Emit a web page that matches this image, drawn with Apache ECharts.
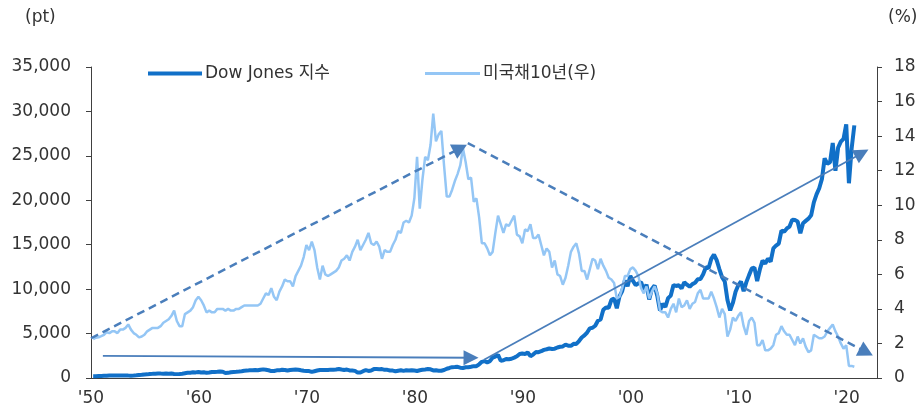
<!DOCTYPE html>
<html>
<head>
<meta charset="utf-8">
<script src="https://cdn.jsdelivr.net/npm/echarts@6/dist/echarts.min.js"></script>
<style>
  html, body { margin: 0; padding: 0; background: #fff; }
  #chart { width: 924px; height: 407px; }
</style>
</head>
<body>
<div id="chart"></div>
<script>
// 다우지수 vs 미국채 10년 금리 (분기 말 기준), 1950 ~ 2020.3Q
var FONT = '"DejaVu Sans", "Noto Sans CJK KR", sans-serif';
var START = 1950.2, STEP = 0.25;   // 첫 분기 위치, 분기 간격(년)

var dowQ = [
  206, 209, 226, 235,   248, 243, 271, 269,   270, 275, 271, 291,   280, 268, 264, 281,
  303, 334, 361, 404,   409, 451, 466, 488,   512, 493, 468, 500,   475, 503, 456, 436,
  446, 478, 532, 584,   602, 644, 632, 679,   616, 641, 580, 616,   676, 684, 701, 731,
  707, 561, 579, 652,   683, 707, 733, 763,   813, 832, 875, 874,   889, 868, 931, 969,
  924, 870, 774, 786,   865, 860, 927, 905,   840, 898, 935, 944,   935, 873, 813, 800,
  785, 683, 761, 839,   904, 891, 887, 890,   940, 929, 953, 1020,  951, 891, 947, 851,
  847, 802, 608, 616,   768, 879, 794, 852,   999, 1003, 990, 1005, 919, 916, 847, 831,
  757, 819, 866, 805,   862, 842, 878, 839,   786, 868, 932, 964,   1004, 977, 850, 875,
  823, 812, 896, 1047,  1130, 1222, 1233, 1259, 1165, 1133, 1207, 1212, 1267, 1336, 1329, 1547,
  1819, 1893, 1768, 1896, 2305, 2419, 2596, 1939, 1989, 2142, 2113, 2169, 2294, 2440, 2693, 2753,
  2707, 2881, 2453, 2634, 2914, 2907, 3017, 3169, 3236, 3319, 3272, 3301, 3436, 3516, 3555, 3754,
  3636, 3625, 3843, 3834, 4158, 4556, 4789, 5117, 5588, 5655, 5882, 6448, 6584, 7673, 7945, 7908,
  8800, 8952, 7843, 9181, 9786, 10971, 10337, 11497, 10922, 10448, 10651, 10787, 9879, 10502, 8848, 10022,
  10404, 9243, 7592, 8342, 7992, 8985, 9275, 10454, 10358, 10435, 10080, 10783, 10504, 10275, 10569, 10718,
  11109, 11150, 11679, 12463, 12354, 13409, 13896, 13265, 12263, 11350, 10851, 8776, 7609, 8447, 9712, 10428,
  10857, 9774, 10788, 11578, 12320, 12414, 10913, 12218, 13212, 12880, 13437, 13104, 14579, 14910, 15130, 16577,
  16458, 16827, 17043, 17823, 17776, 17620, 16285, 17425, 17685, 17930, 18308, 19763, 20663, 21350, 22405, 24719,
  24103, 24271, 26458, 23327, 25929, 26600, 26917, 28538, 21917, 25813, 28430
];

var ustQ = [
  2.25, 2.33, 2.36, 2.42,  2.5, 2.65, 2.6, 2.7,    2.7, 2.6, 2.8, 2.8,    2.9, 3.1, 2.8, 2.6,
  2.5, 2.35, 2.4, 2.5,     2.7, 2.8, 2.9, 2.9,     2.9, 3.0, 3.2, 3.3,    3.4, 3.6, 3.9, 3.3,
  3.0, 3.0, 3.7, 3.8,      3.9, 4.1, 4.5, 4.7,     4.5, 4.2, 3.8, 3.9,    3.8, 3.8, 4.0, 4.0,
  4.0, 3.9, 4.0, 3.9,      3.9, 4.0, 4.0, 4.1,     4.2, 4.2, 4.2, 4.2,    4.2, 4.2, 4.3, 4.6,
  4.9, 4.8, 5.2, 4.7,      4.5, 5.0, 5.3, 5.7,     5.6, 5.6, 5.3, 5.9,    6.2, 6.5, 7.0, 7.7,
  7.4, 7.9, 7.4, 6.4,      5.7, 6.5, 6.0, 5.9,     6.0, 6.1, 6.2, 6.4,    6.8, 6.9, 7.1, 6.8,
  7.3, 7.6, 8.0, 7.4,      7.7, 8.0, 8.4, 7.8,     7.7, 7.9, 7.6, 6.9,    7.4, 7.3, 7.3, 7.7,
  8.0, 8.5, 8.4, 9.0,      9.1, 9.0, 9.4, 10.4,    12.8, 9.8, 11.5, 12.8, 12.6, 13.5, 15.3, 13.7,
  14.1, 14.3, 12.3, 10.5,  10.5, 10.9, 11.4, 11.8, 12.3, 13.3, 12.5, 11.5, 11.6, 10.2, 10.4, 9.3,
  7.8, 7.8, 7.5, 7.1,      7.3, 8.4, 9.4, 8.9,     8.4, 8.9, 8.8, 9.1,    9.4, 8.3, 8.2, 7.8,
  8.6, 8.5, 8.9, 8.1,      8.1, 8.3, 7.7, 7.1,     7.5, 7.3, 6.4, 6.8,    6.0, 5.9, 5.4, 5.8,
  6.5, 7.3, 7.6, 7.8,      7.2, 6.2, 6.2, 5.7,     6.3, 6.9, 6.8, 6.3,    6.9, 6.5, 6.2, 5.8,
  5.7, 5.5, 4.6, 4.7,      5.2, 5.9, 5.9, 6.3,     6.4, 6.2, 5.9, 5.2,    4.9, 5.3, 4.6, 5.0,
  5.3, 4.9, 3.9, 3.8,      3.8, 3.5, 4.0, 4.3,     3.8, 4.6, 4.1, 4.2,    4.5, 4.0, 4.3, 4.4,
  4.9, 5.1, 4.6, 4.6,      4.6, 5.0, 4.6, 4.1,     3.5, 4.0, 3.7, 2.4,    2.8, 3.5, 3.3, 3.6,
  3.8, 3.0, 2.5, 3.3,      3.5, 3.2, 1.9, 1.9,     2.2, 1.6, 1.6, 1.7,    1.9, 2.5, 2.6, 3.0,
  2.7, 2.5, 2.5, 2.2,      1.9, 2.4, 2.0, 2.3,     1.8, 1.5, 1.6, 2.5,    2.4, 2.3, 2.3, 2.4,
  2.7, 2.9, 3.1, 2.7,      2.4, 2.0, 1.7, 1.9,     0.7, 0.7, 0.65
];

// 추세 화살표 (년, 값) - 금리(우축) 점선 / 다우(좌축) 실선
var yieldArrows = [
  [[1950.0, 2.3], [1984.2, 13.3]],
  [[1984.9, 13.6], [2021.8, 1.5]]
];
var dowArrows = [
  [[1951.1, 2480], [1985.2, 2280]],
  [[1986.4, 2050], [2021.4, 25300]]
];

var xTicks = { min: 1950, max: 2022.8, step: 10 };

function toPairs(vals) {
  return vals.map(function (v, i) { return [START + i * STEP, v]; });
}
function toMark(list) {
  return list.map(function (seg) { return [{ coord: seg[0] }, { coord: seg[1] }]; });
}

var AXIS_COLOR = "#404040";
var LABEL = { color: "#333", fontFamily: FONT, fontSize: 17 };

var chart = echarts.init(document.getElementById("chart"), null, { renderer: "canvas" });
chart.setOption({
  animation: false,
  textStyle: { fontFamily: FONT },
  grid: { left: 91, right: 47, top: 67, bottom: 29, containLabel: false },
  legend: [
    { data: ["Dow Jones 지수"], left: 143, top: 60, icon: "rect", itemWidth: 54, itemHeight: 4,
      textStyle: { color: "#333", fontFamily: FONT, fontSize: 17, padding: [0, 0, 0, -2] } },
    { data: ["미국채10년(우)"], left: 420, top: 60, icon: "rect", itemWidth: 55, itemHeight: 3,
      textStyle: { color: "#333", fontFamily: FONT, fontSize: 17, padding: [0, 0, 0, -2] } }
  ],
  graphic: [
    { type: "text", left: 25, top: 9, style: { text: "(pt)", fill: "#333", font: "17px " + FONT } },
    { type: "text", left: 888, top: 9, style: { text: "(%)", fill: "#333", font: "17px " + FONT } }
  ],
  xAxis: {
    type: "value", min: xTicks.min, max: xTicks.max, interval: xTicks.step,
    axisLine: { lineStyle: { color: AXIS_COLOR, width: 1 } },
    axisTick: { show: false },
    splitLine: { show: false },
    axisLabel: Object.assign({ margin: 12, showMaxLabel: false,
      formatter: function (v) { return v % 10 === 0 ? "'" + String(v).slice(2) : ""; } }, LABEL)
  },
  yAxis: [
    { type: "value", min: 0, max: 35000, interval: 5000, position: "left",
      axisLine: { show: true, lineStyle: { color: AXIS_COLOR, width: 1 } },
      axisTick: { show: true, length: 5, lineStyle: { color: AXIS_COLOR } },
      splitLine: { show: false },
      axisLabel: Object.assign({ margin: 20,
        formatter: function (v) { return v.toLocaleString("en-US"); } }, LABEL) },
    { type: "value", min: 0, max: 18, interval: 2, position: "right",
      axisLine: { show: true, lineStyle: { color: AXIS_COLOR, width: 1 } },
      axisTick: { show: true, length: 5, lineStyle: { color: AXIS_COLOR } },
      splitLine: { show: false },
      axisLabel: Object.assign({ margin: 17 }, LABEL) }
  ],
  series: [
    { name: "Dow Jones 지수", type: "line", yAxisIndex: 0, symbol: "none", z: 2,
      data: toPairs(dowQ),
      lineStyle: { color: "#1170C8", width: 4 }, itemStyle: { color: "#1170C8" },
      markLine: { silent: true, symbol: ["none", "triangle"], symbolSize: [15, 15],
        label: { show: false }, emphasis: { disabled: true },
        lineStyle: { color: "#4A7EBB", width: 1.8, type: "solid" },
        data: toMark(dowArrows) } },
    { name: "미국채10년(우)", type: "line", yAxisIndex: 1, symbol: "none", z: 3,
      data: toPairs(ustQ),
      lineStyle: { color: "#94C6F5", width: 2.5 }, itemStyle: { color: "#94C6F5" },
      markLine: { silent: true, symbol: ["none", "triangle"], symbolSize: [16, 15],
        label: { show: false }, emphasis: { disabled: true },
        lineStyle: { color: "#4A7EBB", width: 2.5, type: [8, 5] },
        data: toMark(yieldArrows) } }
  ]
});
</script>
</body>
</html>
